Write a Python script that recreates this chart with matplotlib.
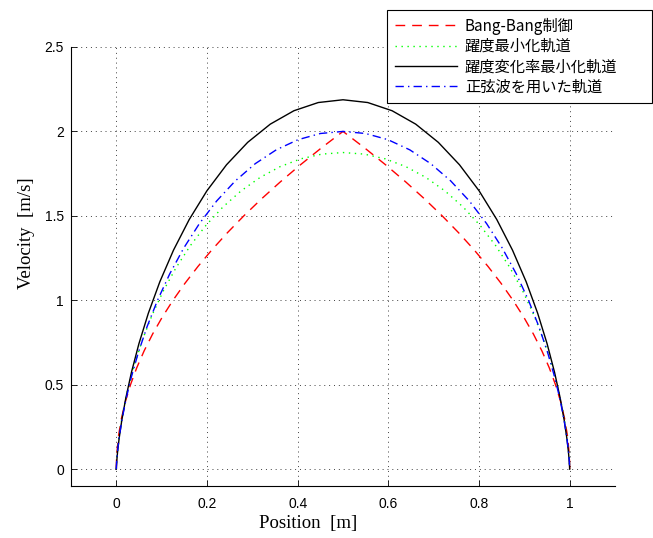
import matplotlib
matplotlib.use("Agg")
from matplotlib import pyplot as plt

# Bang-Bang control (red dashed)
bang_pos = [0.0, 0.0003, 0.0013, 0.005, 0.01125, 0.02, 0.03125, 0.045, 0.06125, 0.08, 0.10125,
            0.125, 0.15125, 0.18, 0.21125, 0.245, 0.28125, 0.32, 0.36125, 0.405, 0.45125, 0.5,
            0.54875, 0.595, 0.63875, 0.68, 0.71875, 0.755, 0.78875, 0.82, 0.84875, 0.875,
            0.89875, 0.92, 0.93875, 0.955, 0.96875, 0.98, 0.98875, 0.995, 0.9987, 0.9997, 1.0]
bang_vel = [0.0, 0.05, 0.1, 0.2, 0.3, 0.4, 0.5, 0.6, 0.7, 0.8, 0.9,
            1.0, 1.1, 1.2, 1.3, 1.4, 1.5, 1.6, 1.7, 1.8, 1.9, 2.0,
            1.9, 1.8, 1.7, 1.6, 1.5, 1.4, 1.3, 1.2, 1.1, 1.0,
            0.9, 0.8, 0.7, 0.6, 0.5, 0.4, 0.3, 0.2, 0.1, 0.05, 0.0]

# minimum jerk (green dotted)
jerk_pos = [0.0, 0.00015, 0.00116, 0.00376, 0.00856, 0.01605, 0.02661, 0.04051, 0.05792, 0.07892,
            0.10352, 0.13162, 0.16308, 0.19769, 0.23517, 0.27521, 0.31744, 0.36147, 0.40688,
            0.4532, 0.5,
            0.5468, 0.59312, 0.63853, 0.68256, 0.72479, 0.76483, 0.80231, 0.83692, 0.86838,
            0.89648, 0.92108, 0.94208, 0.95949, 0.97339, 0.98395, 0.99144, 0.99624, 0.99884,
            0.99985, 1.0]
jerk_vel = [0.0, 0.0178, 0.0677, 0.1444, 0.243, 0.3589, 0.4877, 0.6253, 0.768, 0.9122,
            1.0547, 1.1925, 1.323, 1.4438, 1.5527, 1.6479, 1.728, 1.7916, 1.8377,
            1.8656, 1.875,
            1.8656, 1.8377, 1.7916, 1.728, 1.6479, 1.5527, 1.4438, 1.323, 1.1925,
            1.0547, 0.9122, 0.768, 0.6253, 0.4877, 0.3589, 0.243, 0.1444, 0.0677,
            0.0178, 0.0]

# minimum jerk-rate (black solid)
snap_pos = [0.0, 0.0000129, 0.000194, 0.00092, 0.00273, 0.00624, 0.0121, 0.02095, 0.03334,
            0.04976, 0.07056, 0.09595, 0.12604, 0.16074, 0.19985, 0.24302, 0.28979, 0.33958,
            0.39171, 0.44545, 0.5,
            0.55455, 0.60829, 0.66042, 0.71021, 0.75698, 0.80015, 0.83926, 0.87396, 0.90405,
            0.92944, 0.95024, 0.96666, 0.97905, 0.9879, 0.99376, 0.99727, 0.99908, 0.999806,
            0.9999871, 1.0]
snap_vel = [0.0, 0.002, 0.015, 0.0467, 0.1021, 0.1832, 0.2902, 0.4213, 0.5734,
            0.7423, 0.9229, 1.1095, 1.2965, 1.4781, 1.6485, 1.8024, 1.9354, 2.0431,
            2.1225, 2.1711, 2.1875,
            2.1711, 2.1225, 2.0431, 1.9354, 1.8024, 1.6485, 1.4781, 1.2965, 1.1095,
            0.9229, 0.7423, 0.5734, 0.4213, 0.2902, 0.1832, 0.1021, 0.0467, 0.015,
            0.002, 0.0]

# sine wave trajectory (blue dash-dot)
sine_pos = [0.0, 0.000103, 0.000819, 0.002745, 0.006451, 0.01246, 0.021241, 0.033192, 0.048635,
            0.067803, 0.090845, 0.117803, 0.148635, 0.183192, 0.221241, 0.26246, 0.306451,
            0.352745, 0.400819, 0.450103, 0.5,
            0.549897, 0.599181, 0.647255, 0.693549, 0.73754, 0.778759, 0.816808, 0.851365,
            0.882197, 0.909155, 0.932197, 0.951365, 0.966808, 0.978759, 0.98754, 0.993549,
            0.997255, 0.999181, 0.999897, 1.0]
sine_vel = [0.0, 0.0123, 0.0489, 0.109, 0.191, 0.2929, 0.4122, 0.546, 0.691,
            0.8436, 1.0, 1.1564, 1.309, 1.454, 1.5878, 1.7071, 1.809,
            1.891, 1.9511, 1.9877, 2.0,
            1.9877, 1.9511, 1.891, 1.809, 1.7071, 1.5878, 1.454, 1.309,
            1.1564, 1.0, 0.8436, 0.691, 0.546, 0.4122, 0.2929, 0.191,
            0.109, 0.0489, 0.0123, 0.0]

labels = ["Bang-Bang制御", "躍度最小化軌道", "躍度変化率最小化軌道", "正弦波を用いた軌道"]
x_ticks = [0, 0.2, 0.4, 0.6, 0.8, 1]
y_ticks = [0, 0.5, 1, 1.5, 2, 2.5]

plt.rcParams['font.family'] = ['Noto Sans CJK JP', 'DejaVu Sans']

fig = plt.figure(figsize=(6.53, 5.38), dpi=100)
ax = fig.add_axes([71 / 653, 52 / 538, 544 / 653, 439 / 538])

ax.plot(bang_pos, bang_vel, color='red', linestyle=(0, (7, 5)), linewidth=1.0, label=labels[0])
ax.plot(jerk_pos, jerk_vel, color='#00ff00', linestyle=(0, (1, 3.3)), linewidth=1.0, label=labels[1])
ax.plot(snap_pos, snap_vel, color='black', linestyle='-', linewidth=1.0, label=labels[2])
ax.plot(sine_pos, sine_vel, color='blue', linestyle=(0, (6, 3, 1, 3)), linewidth=1.0, label=labels[3])

ax.set_xlim(-0.1, 1.1)
ax.set_ylim(-0.1, 2.5)
ax.set_xticks(x_ticks)
ax.set_yticks(y_ticks)
ax.set_xticklabels([str(t) for t in x_ticks], family='Liberation Sans')
ax.set_yticklabels([str(t) for t in y_ticks], family='Liberation Sans')
ax.tick_params(direction='in', length=4, width=0.6, labelsize=10)
ax.tick_params(axis='x', pad=8)
ax.tick_params(axis='y', pad=5)
ax.grid(True, color='0.25', linestyle=(0, (1, 4)), linewidth=0.7)

for side in ['top', 'right']:
    ax.spines[side].set_visible(False)
for side in ['left', 'bottom']:
    ax.spines[side].set_linewidth(0.8)

ax.set_xlabel("Position  [m]", family='Liberation Serif', fontsize=13.5)
ax.set_ylabel("Velocity  [m/s]", family='Liberation Serif', fontsize=13.5)
ax.xaxis.set_label_coords(0.436, -0.065)
ax.yaxis.set_label_coords(-0.066, 0.576)

# legend box sits partly above the axes, wider than its text (MATLAB style)
leg = fig.legend(loc='upper left', mode='expand',
                 bbox_to_anchor=(387 / 653, 1 - 101 / 538, 265 / 653, 91 / 538),
                 fontsize=11, handlelength=4.1, fancybox=False, framealpha=1,
                 edgecolor='black', borderaxespad=0, labelspacing=0.22,
                 borderpad=0.5, handletextpad=0.5)
leg.get_frame().set_linewidth(0.8)

fig.savefig("out.png", dpi=100)
